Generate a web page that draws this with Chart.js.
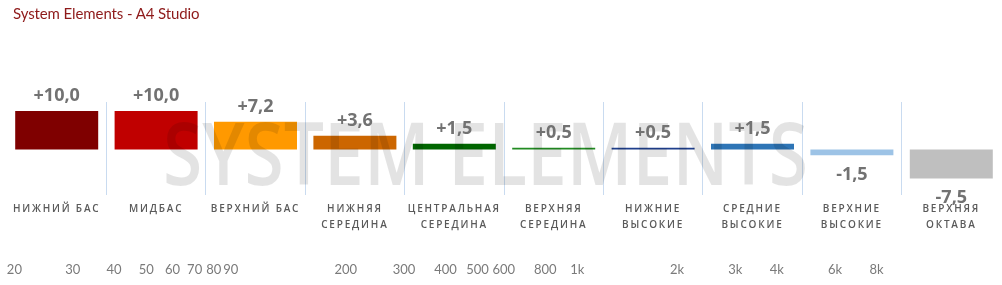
<!DOCTYPE html>
<html>
<head>
<meta charset="utf-8">
<script src="https://cdn.jsdelivr.net/npm/chart.js@4"></script>
<style>
  html, body { margin: 0; padding: 0; background: #fff; }
  #wrap { position: relative; width: 1002px; height: 285px; }
  #title { position: absolute; left: 13px; top: 4px; font: 15px Lato, sans-serif; color: #8e1a1a; letter-spacing: -0.1px; }
  canvas { position: absolute; left: 0; top: 0; }
</style>
</head>
<body>
<div id="wrap">
  <canvas id="chart" width="1002" height="285"></canvas>
  <div id="title">System Elements - A4 Studio</div>
</div>
<script>
const bandNames = [
  "НИЖНИЙ БАС", "МИДБАС", "ВЕРХНИЙ БАС",
  ["НИЖНЯЯ", "СЕРЕДИНА"], ["ЦЕНТРАЛЬНАЯ", "СЕРЕДИНА"], ["ВЕРХНЯЯ", "СЕРЕДИНА"],
  ["НИЖНИЕ", "ВЫСОКИЕ"], ["СРЕДНИЕ", "ВЫСОКИЕ"], ["ВЕРХНИЕ", "ВЫСОКИЕ"], ["ВЕРХНЯЯ", "ОКТАВА"]
];
const bandValues = [10, 10, 7.2, 3.6, 1.5, 0.5, 0.5, 1.5, -1.5, -7.5];
const bandColors = ["#7f0000", "#c00000", "#ff9900", "#cc6600", "#006600",
                    "#228b22", "#1f3f8c", "#2e75b6", "#9dc3e6", "#bfbfbf"];
const freqTicks = [20, 30, 40, 50, 60, 70, 80, 90, 200, 300, 400, 500, 600, 800,
                   1000, 2000, 3000, 4000, 6000, 8000];
const freqLabels = ["20", "30", "40", "50", "60", "70", "80", "90", "200", "300", "400",
                    "500", "600", "800", "1k", "2k", "3k", "4k", "6k", "8k"];

function fmt(v) {
  return (v > 0 ? "+" : "") + v.toFixed(1).replace(".", ",");
}

// spaced caps for the band names
const spacedLabels = {
  id: "spacedLabels",
  beforeDraw(chart) {
    const s = chart.scales.x;
    if (s._spaced) return;
    const orig = s.drawLabels.bind(s);
    s.drawLabels = function (area) {
      const ctx = this.ctx;
      ctx.save();
      ctx.letterSpacing = "1.8px";
      orig(area);
      ctx.restore();
    };
    s._spaced = true;
  }
};

const watermark = {
  id: "watermark",
  afterDatasetsDraw(chart) {
    const ctx = chart.ctx;
    ctx.save();
    ctx.font = '600 87px "Open Sans"';
    ctx.fillStyle = "rgba(0,0,0,0.11)";
    ctx.textAlign = "left";
    ctx.textBaseline = "alphabetic";
    ctx.fillText("SYSTEM ELEMENTS", 163, 185, 645);
    ctx.restore();
  }
};

const valueLabels = {
  id: "valueLabels",
  afterDraw(chart) {
    const ctx = chart.ctx;
    const meta = chart.getDatasetMeta(0);
    ctx.save();
    ctx.font = '700 18px "Open Sans"';
    ctx.fillStyle = "#727272";
    ctx.textAlign = "center";
    ctx.textBaseline = "alphabetic";
    meta.data.forEach((bar, i) => {
      const v = bandValues[i];
      const y = v >= 0 ? bar.y - 10 : bar.y + 25;
      ctx.fillText(fmt(v), bar.x, y);
    });
    ctx.restore();
  }
};

new Chart(document.getElementById("chart"), {
  type: "bar",
  data: {
    labels: bandNames,
    datasets: [{
      data: bandValues,
      backgroundColor: bandColors,
      borderWidth: 0,
      barPercentage: 0.835,
      categoryPercentage: 1
    }]
  },
  options: {
    responsive: false,
    animation: false,
    layout: { padding: { top: 102, left: 7, right: 1, bottom: 0 } },
    plugins: { legend: { display: false }, tooltip: { enabled: false } },
    scales: {
      y: { display: false, min: -11.8, max: 12.35 },
      x: {
        weight: 0,
        border: { display: false },
        grid: {
          offset: true,
          drawTicks: false,
          lineWidth: 1,
          color: c => (c.type === "tick" && c.index > 0) ? "#c9dbf0" : "rgba(0,0,0,0)"
        },
        ticks: {
          padding: 6,
          autoSkip: false,
          maxRotation: 0,
          minRotation: 0,
          color: "#5a5a5a",
          font: { family: "Open Sans", size: 10, weight: "600", lineHeight: 1.6 }
        },
        afterFit: s => { s.height = 40; s.paddingLeft = 0; s.paddingRight = 0; }
      },
      x2: {
        type: "logarithmic",
        position: "bottom",
        weight: 1,
        min: 19,
        max: 19000,
        border: { display: false },
        grid: { display: false, drawTicks: false },
        afterBuildTicks: s => { s.ticks = freqTicks.map(v => ({ value: v })); },
        ticks: {
          padding: 27,
          autoSkip: false,
          maxRotation: 0,
          minRotation: 0,
          color: "#7a7a7a",
          font: { family: "Lato", size: 13 },
          callback: (v, i) => freqLabels[i]
        },
        afterFit: s => { s.height = 50; s.paddingLeft = 0; s.paddingRight = 0; }
      }
    }
  },
  plugins: [spacedLabels, watermark, valueLabels]
});
</script>
</body>
</html>
